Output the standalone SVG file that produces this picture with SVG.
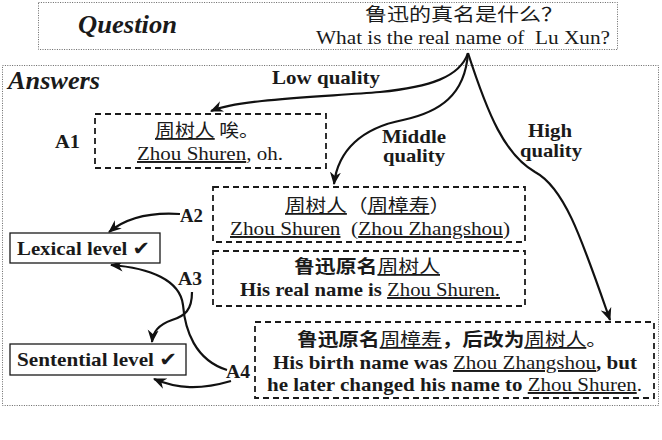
<svg xmlns="http://www.w3.org/2000/svg" width="662" height="440" viewBox="0 0 662 440">
<style>
text{font-family:"Liberation Serif","Noto Sans CJK SC","DejaVu Sans",serif;fill:#1a1a1a;font-size:19.5px}
.zh{font-family:"Noto Sans CJK SC","Liberation Serif",sans-serif;font-size:18px}
.b{font-weight:bold}
.bi{font-weight:bold;font-style:italic;font-size:26px}
.u{text-decoration:underline;font-weight:normal}
.dot{fill:none;stroke:#666;stroke-width:1;stroke-dasharray:1 1.4}
.dash{fill:#fff;stroke:#1a1a1a;stroke-width:1.8;stroke-dasharray:6 4}
.solid{fill:#fff;stroke:#1a1a1a;stroke-width:1.3}
.c{fill:none;stroke:#111;stroke-width:2.2}
</style>
<defs>
<marker id="ah" markerUnits="userSpaceOnUse" markerWidth="14" markerHeight="12" refX="12" refY="6" orient="auto" viewBox="0 0 14 12">
<path d="M0,0.5 L13,6 L0,11.5 L4,6 Z" fill="#111"/>
</marker>
</defs>

<g id="question">
<rect class="dot" x="38.5" y="2.5" width="579" height="47"/>
<text class="bi" x="78" y="33" textLength="99" lengthAdjust="spacingAndGlyphs">Question</text>
<text class="zh" x="365" y="21" textLength="198" lengthAdjust="spacingAndGlyphs">鲁迅的真名是什么？</text>
<text x="316" y="44" textLength="294" lengthAdjust="spacingAndGlyphs">What is the real name of&#160; Lu Xun?</text>
</g>

<g id="answers">
<rect class="dot" x="2.5" y="65.5" width="656" height="340"/>
<text class="bi" x="8" y="89" textLength="92" lengthAdjust="spacingAndGlyphs">Answers</text>
</g>

<g id="connectors">
<path class="c" d="M468,53 C460,77 430,87 380,92 C320,97 240,99 211,111" marker-end="url(#ah)"/>
<path class="c" d="M468,53 C465,95 440,112 403,120 C362,128 338,150 334,184" marker-end="url(#ah)"/>
<path class="c" d="M468,53 C488,115 505,155 535,172 C565,188 582,240 610,320" marker-end="url(#ah)"/>
<path class="c" d="M180,214 C150,212 126,218 109,232" marker-end="url(#ah)"/>
<path class="c" d="M192,292 C192,310 185,316 172,320 C158,325 153,332 152,342" marker-end="url(#ah)"/>
<path class="c" d="M227,370 C195,360 185,330 183,305 C180,280 150,268 111,265" marker-end="url(#ah)"/>
<path class="c" d="M231,381 C200,390 178,389 154,379" marker-end="url(#ah)"/>
</g>

<g id="labels">
<text class="b" x="272" y="84" textLength="108" lengthAdjust="spacingAndGlyphs">Low quality</text>
<text class="b" x="382" y="143" textLength="64" lengthAdjust="spacingAndGlyphs">Middle</text>
<text class="b" x="383" y="162" textLength="62" lengthAdjust="spacingAndGlyphs">quality</text>
<text class="b" x="528" y="137" textLength="44" lengthAdjust="spacingAndGlyphs">High</text>
<text class="b" x="520" y="157" textLength="62" lengthAdjust="spacingAndGlyphs">quality</text>
<text class="b" x="55" y="148" textLength="25" lengthAdjust="spacingAndGlyphs">A1</text>
<text class="b" x="180" y="222" textLength="23" lengthAdjust="spacingAndGlyphs">A2</text>
<text class="b" x="178" y="285" textLength="24" lengthAdjust="spacingAndGlyphs">A3</text>
<text class="b" x="226" y="378" textLength="24" lengthAdjust="spacingAndGlyphs">A4</text>
</g>

<g id="a1">
<rect class="dash" x="95" y="114" width="231" height="54"/>
<text class="zh" x="155" y="137" textLength="104" lengthAdjust="spacingAndGlyphs"><tspan class="u">周树人</tspan> 唉。</text>
<text x="137" y="160" textLength="146" lengthAdjust="spacingAndGlyphs"><tspan class="u">Zhou Shuren</tspan>, oh.</text>
</g>

<g id="a2">
<rect class="dash" x="213" y="187" width="312" height="55"/>
<text class="zh" x="285" y="212" textLength="165" lengthAdjust="spacingAndGlyphs"><tspan class="u">周树人</tspan>（<tspan class="u">周樟寿</tspan>）</text>
<text x="230" y="235" textLength="280" lengthAdjust="spacingAndGlyphs"><tspan class="u">Zhou Shuren</tspan>&#160; (<tspan class="u">Zhou Zhangshou</tspan>)</text>
</g>

<g id="a3">
<rect class="dash" x="213" y="251" width="312" height="55"/>
<text class="zh" x="294" y="273" textLength="146" lengthAdjust="spacingAndGlyphs"><tspan class="b">鲁迅原名</tspan><tspan class="u">周树人</tspan></text>
<text x="240" y="296" textLength="260" lengthAdjust="spacingAndGlyphs"><tspan class="b">His real name is </tspan><tspan class="u">Zhou Shuren.</tspan></text>
</g>

<g id="a4">
<rect class="dash" x="255" y="322" width="399" height="76"/>
<text class="zh" x="297" y="346" textLength="310" lengthAdjust="spacingAndGlyphs"><tspan class="b">鲁迅原名</tspan><tspan class="u">周樟寿</tspan><tspan class="b">，后改为</tspan><tspan class="u">周树人</tspan>。</text>
<text x="273" y="369" textLength="364" lengthAdjust="spacingAndGlyphs"><tspan class="b">His birth name was </tspan><tspan class="u">Zhou Zhangshou</tspan><tspan class="b">, but</tspan></text>
<text x="267" y="391" textLength="375" lengthAdjust="spacingAndGlyphs"><tspan class="b">he later changed his name to </tspan><tspan class="u">Zhou Shuren</tspan>.</text>
</g>

<g id="lexical">
<rect class="solid" x="10" y="233" width="150" height="30"/>
<text class="b" x="17" y="255" textLength="133" lengthAdjust="spacingAndGlyphs">Lexical level ✔</text>
</g>

<g id="sentential">
<rect class="solid" x="10" y="344" width="176" height="31"/>
<text class="b" x="17" y="366" textLength="160" lengthAdjust="spacingAndGlyphs">Sentential level ✔</text>
</g>
</svg>
